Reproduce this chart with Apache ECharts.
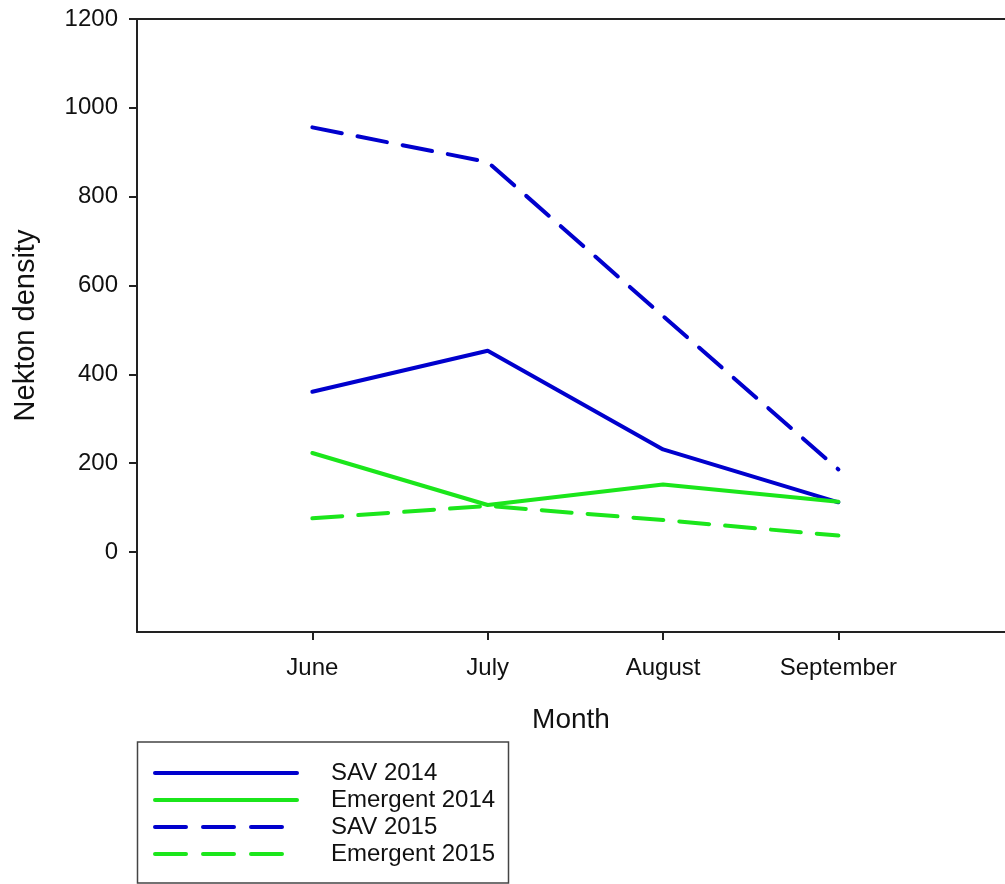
<!DOCTYPE html>
<html>
<head>
<meta charset="utf-8">
<script src="https://cdn.jsdelivr.net/npm/echarts@6/dist/echarts.min.js"></script>
<style>
html,body{margin:0;padding:0;background:#fff;}
#chart{width:1005px;height:884px;}
</style>
</head>
<body>
<div id="chart"></div>
<script>
const months = ['June', 'July', 'August', 'September'];
const monthPos = [1, 2, 3, 4];
const yTicks = [0, 200, 400, 600, 800, 1000, 1200];
const sav2014 = [361, 453, 231, 112];
const emergent2014 = [223, 106, 152, 113];
const sav2015 = [956, 878, 531, 186];
const emergent2015 = [76, 104, 72, 37];
const seriesNames = ['SAV 2014', 'Emergent 2014', 'SAV 2015', 'Emergent 2015'];
const dashedFlags = [false, false, true, true];

const BLUE = '#0000cd';
const GREEN = '#1be61b';
const FONT = 'Liberation Sans, Arial, sans-serif';

function pairs(vals) { return vals.map((v, i) => [monthPos[i], v]); }
function mk(name, vals, color, dashed) {
  return {
    name: name, type: 'line', data: pairs(vals), symbol: 'none',
    lineStyle: { color: color, width: 4, type: dashed ? [30, 16] : 'solid', cap: 'round', join: 'round' },
    itemStyle: { color: color },
    emphasis: { disabled: true }, silent: true, animation: false
  };
}

const chart = echarts.init(document.getElementById('chart'), null, { renderer: 'canvas' });
chart.setOption({
  backgroundColor: '#fff',
  animation: false,
  grid: { left: 137, right: 0, top: 19, bottom: 252, containLabel: false },
  xAxis: [{
    type: 'value', min: 0, max: 4.95, position: 'bottom',
    name: 'Month', nameLocation: 'middle', nameGap: 74,
    nameTextStyle: { fontFamily: FONT, fontSize: 28, color: '#111' },
    axisLine: { show: true, onZero: false, lineStyle: { color: '#222', width: 2 } },
    axisTick: { show: true, inside: false, length: 8, customValues: monthPos, lineStyle: { color: '#222', width: 2 } },
    axisLabel: { customValues: monthPos, margin: 24, fontFamily: FONT, fontSize: 24, color: '#111',
      formatter: v => months[monthPos.indexOf(v)] || '' },
    splitLine: { show: false }
  }, {
    type: 'value', min: 0, max: 4.95, position: 'top',
    axisLine: { show: true, onZero: false, lineStyle: { color: '#222', width: 2 } },
    axisTick: { show: false }, axisLabel: { show: false }, splitLine: { show: false }
  }],
  yAxis: {
    type: 'value', min: -180, max: 1200,
    name: 'Nekton density', nameLocation: 'middle', nameGap: 97, nameRotate: 90,
    nameTextStyle: { fontFamily: FONT, fontSize: 29, color: '#111' },
    axisLine: { show: true, onZero: false, lineStyle: { color: '#222', width: 2 } },
    axisTick: { show: true, inside: false, length: 8, customValues: yTicks, lineStyle: { color: '#222', width: 2 } },
    axisLabel: { customValues: yTicks, margin: 19, fontFamily: FONT, fontSize: 24, color: '#111',
      formatter: v => String(v) },
    splitLine: { show: false }
  },
  legend: {
    show: true, orient: 'vertical', left: 137, top: 742,
    data: seriesNames.map((n, i) => dashedFlags[i]
      ? { name: n, lineStyle: { type: [31, 17], width: 4 } }
      : { name: n }),
    itemWidth: 142, itemHeight: 14, itemGap: 1,
    padding: [18, 16, 0, 16],
    itemStyle: { opacity: 0 },
    lineStyle: { width: 4 },
    textStyle: { fontFamily: FONT, fontSize: 24, color: '#111', lineHeight: 26, padding: [0, 0, 0, 29] },
    selectedMode: false
  },
  graphic: [{
    type: 'rect', silent: true,
    shape: { x: 137.5, y: 742, width: 371, height: 141 },
    style: { fill: 'none', stroke: '#444', lineWidth: 1.5 }
  }],
  series: [
    mk(seriesNames[0], sav2014, BLUE, dashedFlags[0]),
    mk(seriesNames[1], emergent2014, GREEN, dashedFlags[1]),
    mk(seriesNames[2], sav2015, BLUE, dashedFlags[2]),
    mk(seriesNames[3], emergent2015, GREEN, dashedFlags[3])
  ]
});
</script>
</body>
</html>
